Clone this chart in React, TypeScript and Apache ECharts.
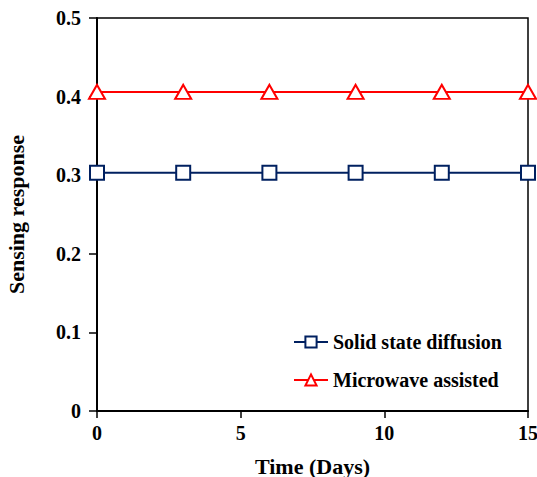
import React, { useEffect, useRef } from "react";
import * as echarts from "echarts";

const days = [0, 3, 6, 9, 12, 15];
const solidState = [0.303, 0.303, 0.303, 0.303, 0.303, 0.303];
const microwave = [0.406, 0.406, 0.406, 0.406, 0.406, 0.406];
const seriesNames = ["Solid state diffusion", "Microwave assisted"];

const font = "'Liberation Serif', 'Times New Roman', serif";

export default function App() {
  const ref = useRef<HTMLDivElement>(null);
  useEffect(() => {
    const chart = echarts.init(ref.current!, null, { renderer: "svg" });
    const axisText = { color: "#000", fontFamily: font, fontWeight: "bold", fontSize: 20 };
    chart.setOption({
      animation: false,
      backgroundColor: "#fff",
      grid: {
        left: 97, top: 18, right: 9, bottom: 66,
        outerBoundsMode: "none",
        containLabel: false,
        show: true, borderColor: "#000", borderWidth: 1.5, backgroundColor: "transparent",
      },
      legend: {
        left: 288,
        top: 327,
        orient: "vertical",
        itemWidth: 34,
        itemHeight: 14,
        itemGap: 18,
        textStyle: { ...axisText, fontSize: 20, padding: [0, 0, 0, 0] },
        data: seriesNames,
      },
      xAxis: {
        type: "value",
        min: 0,
        max: 15,
        interval: 5,
        name: "Time (Days)",
        nameLocation: "middle",
        nameGap: 44,
        nameTextStyle: { ...axisText, fontSize: 22 },
        axisLine: { lineStyle: { color: "#000", width: 2 } },
        axisTick: { show: true, inside: false, length: 7, lineStyle: { color: "#000", width: 1.5 } },
        axisLabel: { ...axisText, margin: 12 },
        splitLine: { show: false },
      },
      yAxis: {
        type: "value",
        min: 0,
        max: 0.5,
        interval: 0.1,
        name: "Sensing response",
        nameLocation: "middle",
        nameGap: 70,
        nameTextStyle: { ...axisText, fontSize: 22 },
        axisLine: { show: true, lineStyle: { color: "#000", width: 2 } },
        axisTick: { show: true, inside: false, length: 8, lineStyle: { color: "#000", width: 1.5 } },
        axisLabel: { ...axisText, margin: 16, formatter: (v: number) => (v === 0 ? "0" : v.toFixed(1)) },
        splitLine: { show: false },
      },
      series: [
        {
          name: seriesNames[0],
          type: "line",
          data: days.map((d, i) => [d, solidState[i]]),
          symbol: "rect",
          symbolSize: 14,
          showAllSymbol: true,
          lineStyle: { color: "#002060", width: 2 },
          itemStyle: { color: "#fff", borderColor: "#002060", borderWidth: 2 },
          clip: false,
        },
        {
          name: seriesNames[1],
          type: "line",
          data: days.map((d, i) => [d, microwave[i]]),
          symbol: "triangle",
          symbolSize: [16, 14],
          showAllSymbol: true,
          lineStyle: { color: "#ff0000", width: 2 },
          itemStyle: { color: "#fff", borderColor: "#ff0000", borderWidth: 2 },
          clip: false,
        },
      ],
    });
    return () => chart.dispose();
  }, []);
  return <div ref={ref} style={{ position: "absolute", left: 0, top: 0, width: 537, height: 477 }} />;
}
